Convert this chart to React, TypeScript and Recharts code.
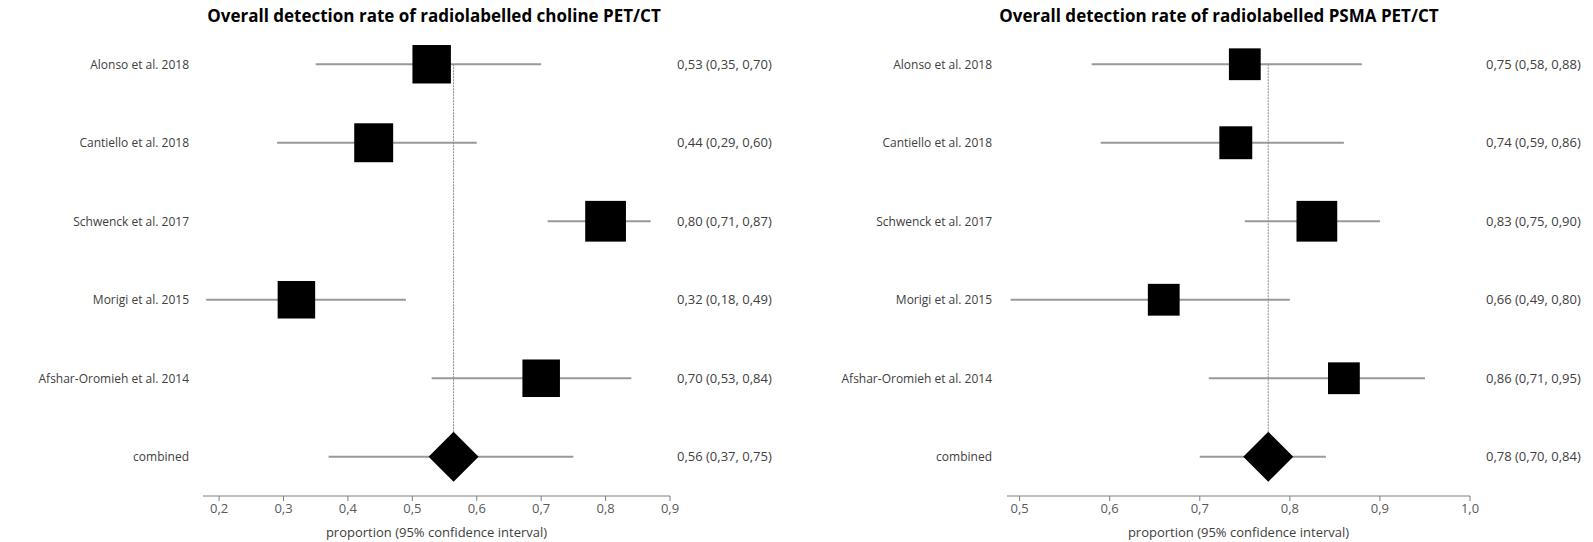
import { ScatterChart, Scatter, XAxis, YAxis, ErrorBar, ReferenceLine } from "recharts";

const studies = [
  "Alonso et al. 2018",
  "Cantiello et al. 2018",
  "Schwenck et al. 2017",
  "Morigi et al. 2015",
  "Afshar-Oromieh et al. 2014",
  "combined",
];

// choline PET/CT
const cholineEst = [0.53, 0.44, 0.8, 0.32, 0.7, 0.564];
const cholineLow = [0.35, 0.29, 0.71, 0.18, 0.53, 0.37];
const cholineHigh = [0.7, 0.6, 0.87, 0.49, 0.84, 0.75];
const cholineWeight = [20.5, 21, 23, 19.5, 19.5, 0];
const cholineTicks = [0.2, 0.3, 0.4, 0.5, 0.6, 0.7, 0.8, 0.9];

// PSMA PET/CT
const psmaEst = [0.75, 0.74, 0.83, 0.66, 0.86, 0.776];
const psmaLow = [0.58, 0.59, 0.75, 0.49, 0.71, 0.7];
const psmaHigh = [0.88, 0.86, 0.9, 0.8, 0.95, 0.84];
const psmaWeight = [14, 15, 23, 14, 14, 0];
const psmaTicks = [0.5, 0.6, 0.7, 0.8, 0.9, 1.0];

const rowTicks = [0, 1, 2, 3, 4, 5];
const FONT = "'Open Sans', sans-serif";

const fmt = (v: number) => v.toFixed(2).replace(".", ",");

function buildRows(est: number[], low: number[], high: number[], weight: number[]) {
  return studies.map((name, i) => ({
    name,
    row: i,
    est: est[i],
    err: [est[i] - low[i], high[i] - est[i]],
    weight: weight[i],
    combined: i === studies.length - 1,
    text: `${fmt(est[i])} (${fmt(low[i])}, ${fmt(high[i])})`,
  }));
}

function Marker(props: any) {
  const { cx, cy, payload } = props;
  if (cx == null || cy == null) return <g />;
  if (payload.combined) {
    const hw = 25;
    const hh = 25;
    return (
      <polygon
        points={`${cx - hw},${cy} ${cx},${cy - hh} ${cx + hw},${cy} ${cx},${cy + hh}`}
        fill="#000"
      />
    );
  }
  const side = 38 * Math.sqrt(payload.weight / 20);
  return <rect x={cx - side / 2} y={cy - side / 2} width={side} height={side} fill="#000" />;
}

function Forest({
  title,
  est,
  low,
  high,
  weight,
  ticks,
  domain,
  width,
  leftW,
  rightW,
  labelGap,
  valueGap,
  titleX,
}: any) {
  const data = buildRows(est, low, high, weight);
  const combinedEst = est[est.length - 1];
  return (
    <div style={{ position: "relative", width, height: 542 }}>
      <div
        style={{
          position: "absolute",
          left: titleX - 300,
          width: 600,
          top: 5,
          textAlign: "center",
          fontFamily: FONT,
          fontWeight: 700,
          fontSize: 17,
          lineHeight: "22px",
          color: "#000",
        }}
      >
        {title}
      </div>
      <ScatterChart width={width} height={542} margin={{ top: 25, right: 0, bottom: 0, left: 0 }}>
        <XAxis
          dataKey="est"
          type="number"
          domain={domain}
          ticks={ticks}
          allowDataOverflow
          tickFormatter={(v: number) => v.toFixed(1).replace(".", ",")}
          height={46}
          stroke="#7f7f7f"
          tickSize={5}
          tickMargin={3}
          tick={{ fill: "#595959", fontSize: 13, fontFamily: FONT }}
          label={{
            value: "proportion (95% confidence interval)",
            position: "insideBottom",
            offset: 5,
            fill: "#404040",
            fontSize: 13,
            fontFamily: FONT,
          }}
        />
        <YAxis
          yAxisId="left"
          dataKey="row"
          type="number"
          domain={[-0.5, 5.5]}
          reversed
          ticks={rowTicks}
          width={leftW}
          axisLine={false}
          tickLine={false}
          tickSize={0}
          tickMargin={labelGap}
          tickFormatter={(i: number) => studies[i]}
          tick={{ fill: "#404040", fontSize: 12, fontFamily: FONT }}
        />
        <YAxis
          yAxisId="right"
          dataKey="row"
          orientation="right"
          type="number"
          domain={[-0.5, 5.5]}
          reversed
          ticks={rowTicks}
          width={rightW}
          axisLine={false}
          tickLine={false}
          tickSize={0}
          tickMargin={valueGap}
          tickFormatter={(i: number) => data[i].text}
          tick={{ fill: "#404040", fontSize: 13, fontFamily: FONT, textAnchor: "start" }}
        />
        {/* hidden series so the right-hand axis has data */}
        <Scatter yAxisId="right" data={data} shape={() => <g />} isAnimationActive={false} />
        <Scatter yAxisId="left" data={data} shape={() => <g />} isAnimationActive={false}>
          <ErrorBar dataKey="err" direction="x" width={0} stroke="#999999" strokeWidth={2} isAnimationActive={false} />
        </Scatter>
        <ReferenceLine
          yAxisId="left"
          segment={[
            { x: combinedEst, y: 0 },
            { x: combinedEst, y: 5 },
          ]}
          stroke="#8c8c8c"
          strokeDasharray="2 1"
          strokeWidth={1}
        />
        <Scatter yAxisId="left" data={data} shape={Marker} isAnimationActive={false} />
      </ScatterChart>
    </div>
  );
}

export default function App() {
  return (
    <div style={{ position: "absolute", left: 0, top: 0, width: 1593, height: 542, background: "#fff", display: "flex" }}>
      <Forest
        title="Overall detection rate of radiolabelled choline PET/CT"
        est={cholineEst}
        low={cholineLow}
        high={cholineHigh}
        weight={cholineWeight}
        ticks={cholineTicks}
        domain={[0.175, 0.9]}
        width={800}
        leftW={203}
        rightW={130}
        labelGap={14}
        valueGap={7}
        titleX={434}
      />
      <Forest
        title="Overall detection rate of radiolabelled PSMA PET/CT"
        est={psmaEst}
        low={psmaLow}
        high={psmaHigh}
        weight={psmaWeight}
        ticks={psmaTicks}
        domain={[0.486, 1.0]}
        width={793}
        leftW={207}
        rightW={123}
        labelGap={15}
        valueGap={16}
        titleX={419}
      />
    </div>
  );
}
